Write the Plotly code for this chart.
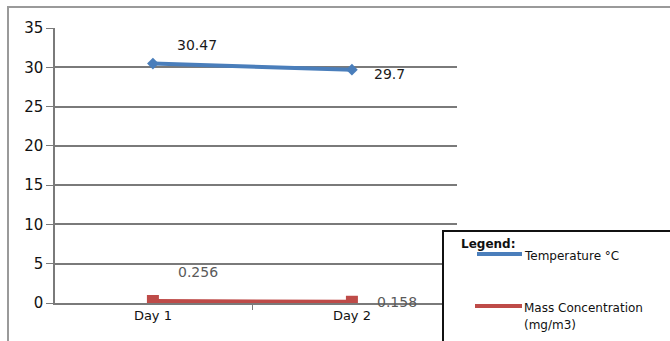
import plotly.graph_objects as go

# ---- data ----
days = ["Day 1", "Day 2"]
temperature_c = [30.47, 29.7]
mass_conc = [0.256, 0.158]
temp_labels = ["30.47", "29.7"]
mass_labels = ["0.256", "0.158"]
y_ticks = [0, 5, 10, 15, 20, 25, 30, 35]

# ---- page geometry (pixels) ----
W, H = 670, 341
ML, MR, MT, MB = 55, 213, 28, 38
PW, PH = W - ML - MR, H - MT - MB


def xp(px):
    """pixel column -> paper x"""
    return (px - ML) / PW


def yp(py):
    """pixel row -> paper y"""
    return (H - MB - py) / PH


BLUE = "#4A7EBB"
RED = "#BE4B48"
GRID = "#7a7a7a"
FONT = "DejaVu Sans"

fig = go.Figure()
fig.add_trace(go.Scatter(
    x=days, y=temperature_c, name="Temperature °C", mode="lines+markers",
    line=dict(color=BLUE, width=4),
    marker=dict(symbol="diamond", size=9, color=BLUE),
    showlegend=False,
))
fig.add_trace(go.Scatter(
    x=days, y=mass_conc, name="Mass Concentration (mg/m3)", mode="lines+markers",
    line=dict(color=RED, width=4),
    marker=dict(symbol="square", size=12, color=RED),
    showlegend=False,
))

annotations = []
# value labels, offset to the right of each point
for d, v, t, dx, dy in zip(days, temperature_c, temp_labels, [44, 38], [19, -4]):
    annotations.append(dict(x=d, y=v, xref="x", yref="y", text=t, showarrow=False,
                            xshift=dx, yshift=dy,
                            font=dict(family=FONT, size=14, color="#1a1a1a")))
for d, v, t, dx, dy in zip(days, mass_conc, mass_labels, [45, 45], [29, 0]):
    annotations.append(dict(x=d, y=v, xref="x", yref="y", text=t, showarrow=False,
                            xshift=dx, yshift=dy,
                            font=dict(family=FONT, size=14, color="#5a5a5a")))

# legend block drawn by hand
annotations += [
    dict(x=xp(459), y=yp(244), xref="paper", yref="paper", text="<b>Legend:</b>",
         showarrow=False, xanchor="left", yanchor="middle",
         font=dict(family=FONT, size=12, color="#111111")),
    dict(x=xp(522), y=yp(256), xref="paper", yref="paper", text="Temperature °C",
         showarrow=False, xanchor="left", yanchor="middle",
         font=dict(family=FONT, size=12, color="#111111")),
    dict(x=xp(522), y=yp(308), xref="paper", yref="paper", text="Mass Concentration",
         showarrow=False, xanchor="left", yanchor="middle",
         font=dict(family=FONT, size=12, color="#111111")),
    dict(x=xp(522), y=yp(325), xref="paper", yref="paper", text="(mg/m3)",
         showarrow=False, xanchor="left", yanchor="middle",
         font=dict(family=FONT, size=12, color="#111111")),
]

shapes = [
    # outer chart frame
    dict(type="rect", xref="paper", yref="paper", x0=xp(8), x1=xp(W + 10),
         y0=yp(H + 10), y1=yp(7), line=dict(color="#9a9a9a", width=2), layer="below"),
    # legend frame
    dict(type="rect", xref="paper", yref="paper", x0=xp(443), x1=xp(W + 10),
         y0=yp(H + 10), y1=yp(231), line=dict(color="#111111", width=2),
         fillcolor="white", layer="above"),
    # legend swatches
    dict(type="line", xref="paper", yref="paper", x0=xp(477), x1=xp(522),
         y0=yp(254), y1=yp(254), line=dict(color=BLUE, width=4)),
    dict(type="line", xref="paper", yref="paper", x0=xp(475), x1=xp(522),
         y0=yp(306), y1=yp(306), line=dict(color=RED, width=4)),
]

fig.update_layout(
    width=W, height=H,
    margin=dict(l=ML, r=MR, t=MT, b=MB, autoexpand=False),
    paper_bgcolor="white", plot_bgcolor="white",
    font=dict(family=FONT, color="#222222"),
    annotations=annotations, shapes=shapes,
)
fig.update_xaxes(
    type="category", range=[-0.492, 1.528], tickson="boundaries",
    ticks="outside", ticklen=5, tickcolor=GRID,
    showline=True, linecolor=GRID, linewidth=1.5,
    showgrid=False, zeroline=False,
    tickfont=dict(family=FONT, size=13, color="#111111"),
)
fig.update_yaxes(
    range=[0, 35], tickvals=y_ticks,
    ticks="outside", ticklen=7, tickcolor=GRID,
    showline=True, linecolor=GRID, linewidth=1.5,
    showgrid=True, gridcolor=GRID, gridwidth=1.5, zeroline=False,
    tickfont=dict(family=FONT, size=15, color="#111111"),
)

fig.write_html("out.html")
